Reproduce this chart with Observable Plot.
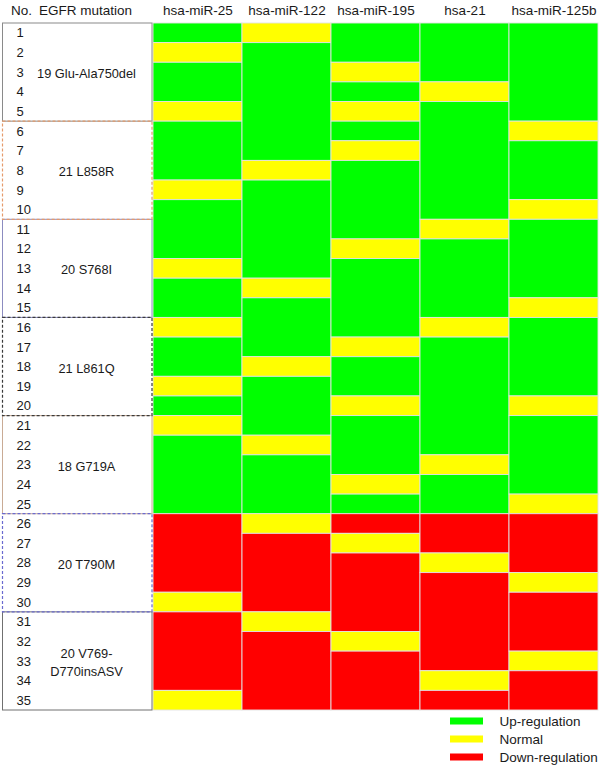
<!DOCTYPE html>
<html>
<head>
<meta charset="utf-8">
<script src="https://cdn.jsdelivr.net/npm/d3@7"></script>
<script src="https://cdn.jsdelivr.net/npm/@observablehq/plot@0.6"></script>
<style>
  html, body { margin: 0; padding: 0; background: #fff; }
  #chart svg { display: block; }
</style>
</head>
<body>
<div id="chart"></div>
<script>
// ---------- data ----------
const mirnas = ["hsa-miR-25", "hsa-miR-122", "hsa-miR-195", "hsa-21", "hsa-miR-125b"];
const samples = [1,2,3,4,5,6,7,8,9,10,11,12,13,14,15,16,17,18,19,20,21,22,23,24,25,26,27,28,29,30,31,32,33,34,35];
const mutations = ["19 Glu-Ala750del", "21 L858R", "20 S768I", "21 L861Q", "18 G719A", "20 T790M", "20 V769-\nD770insASV"];
const mutationSize = [5, 5, 5, 5, 5, 5, 5];
// U = Up-regulation, N = Normal, D = Down-regulation (one letter per sample 1..35)
const miR25   = "UNUUN" + "UUUNU" + "UUNUU" + "NUUNU" + "NUUUU" + "DDDDN" + "DDDDN";
const miR122  = "NUUUU" + "UUNUU" + "UUUNU" + "UUNUU" + "UNUUU" + "NDDDD" + "NDDDD";
const miR195  = "UUNUN" + "UNUUU" + "UNUUU" + "UNUUN" + "UUUNU" + "DNDDD" + "DNDDD";
const hsa21   = "UUUNU" + "UUUUU" + "NUUUU" + "NUUUU" + "UUNUU" + "DDNDD" + "DDDND";
const miR125b = "UUUUU" + "NUUUN" + "UUUUN" + "UUUUN" + "UUUUN" + "DDDND" + "DDNDD";
const statusSeries = [miR25, miR122, miR195, hsa21, miR125b];
const legendLabels = ["Up-regulation", "Normal", "Down-regulation"];
const legendCodes = ["U", "N", "D"];

// ---------- styles ----------
const colorOf = {U: "#00ff00", N: "#ffff00", D: "#ff0000"};
const boxStroke = ["#8a8a8a", "#e59a6a", "#8c8cc0", "#3a3a3a", "#c9ab95", "#6b6bd0", "#707070"];
const boxDash   = [null, "3,2", null, "3,2", null, "3,2", null];
const FONT = "'Liberation Sans', Arial, Helvetica, sans-serif";

// ---------- layout helpers (pixel -> scale units) ----------
const W = 600, H = 766;
const gridLeft = 153, gridRight = 598, gridTop = 23, gridBottom = 710;
const colW = (gridRight - gridLeft) / mirnas.length;
const rowH = (gridBottom - gridTop) / samples.length;
const ux = px => (px - gridLeft) / colW;
const uy = px => (px - gridTop) / rowH;

// ---------- derived tables ----------
// merge consecutive equal statuses per column into runs
const runs = [];
statusSeries.forEach((s, ci) => {
  let start = 0;
  for (let i = 1; i <= s.length; i++) {
    if (i === s.length || s[i] !== s[start]) {
      runs.push({col: ci, start, end: i, status: s[start]});
      start = i;
    }
  }
});
const headers = mirnas.map((m, i) => ({label: m, col: i}));
const rows = samples.map((n, i) => ({n, i}));
let acc = 0;
const groups = mutations.map((m, i) => {
  const g = {label: m, start: acc, end: acc + mutationSize[i], i};
  acc += mutationSize[i];
  return g;
});
const legend = legendLabels.map((l, i) => ({label: l, code: legendCodes[i], i}));

const chart = Plot.plot({
  width: W,
  height: H,
  marginLeft: 2,
  marginRight: W - gridRight,
  marginTop: gridTop,
  marginBottom: H - gridBottom,
  x: {type: "linear", domain: [ux(2), mirnas.length], axis: null},
  y: {type: "linear", domain: [0, samples.length], reverse: true, axis: null},
  style: {fontFamily: FONT, background: "#fff", overflow: "visible"},
  marks: [
    // heatmap runs
    Plot.rect(runs, {
      x1: d => d.col, x2: d => d.col + 1,
      y1: d => d.start, y2: d => d.end,
      fill: d => colorOf[d.status],
      stroke: "#e2e2e2", strokeWidth: 0.9
    }),
    // column headers
    Plot.text(headers, {
      x: d => d.col + 0.5, y: () => uy(10),
      text: "label", fontSize: 13.5, fill: "#1a1a1a"
    }),
    Plot.text(["No."], {x: () => ux(21), y: () => uy(10), text: d => d, fontSize: 13.5, fill: "#1a1a1a"}),
    Plot.text(["EGFR mutation"], {x: () => ux(85), y: () => uy(10), text: d => d, fontSize: 13.5, fill: "#1a1a1a"}),
    // mutation group boxes
    Plot.rect(groups.filter(g => boxDash[g.i] === null), {
      x1: () => ux(2.5), x2: () => ux(152),
      y1: "start", y2: "end",
      fill: "none", stroke: d => boxStroke[d.i], strokeWidth: 1
    }),
    Plot.rect(groups.filter(g => boxDash[g.i] !== null), {
      x1: () => ux(2.5), x2: () => ux(152),
      y1: "start", y2: "end",
      fill: "none", stroke: d => boxStroke[d.i], strokeWidth: 1.2, strokeDasharray: "3,2"
    }),
    // sample numbers
    Plot.text(rows, {
      x: () => ux(16), y: d => d.i + 0.5,
      text: d => String(d.n), textAnchor: "start", fontSize: 13, fill: "#1a1a1a"
    }),
    // mutation labels
    Plot.text(groups, {
      x: () => ux(86), y: d => (d.start + d.end) / 2,
      text: "label", fontSize: 12.8, fill: "#1a1a1a", lineHeight: 1.35
    }),
    // legend
    Plot.rect(legend, {
      x1: () => ux(450), x2: () => ux(483),
      y1: d => uy(717.5 + 18 * d.i), y2: d => uy(724.5 + 18 * d.i),
      fill: d => colorOf[d.code]
    }),
    Plot.text(legend, {
      x: () => ux(499), y: d => uy(721 + 18 * d.i),
      text: "label", textAnchor: "start", fontSize: 13.5, fill: "#1a1a1a"
    })
  ]
});
document.getElementById("chart").appendChild(chart);
</script>
</body>
</html>
